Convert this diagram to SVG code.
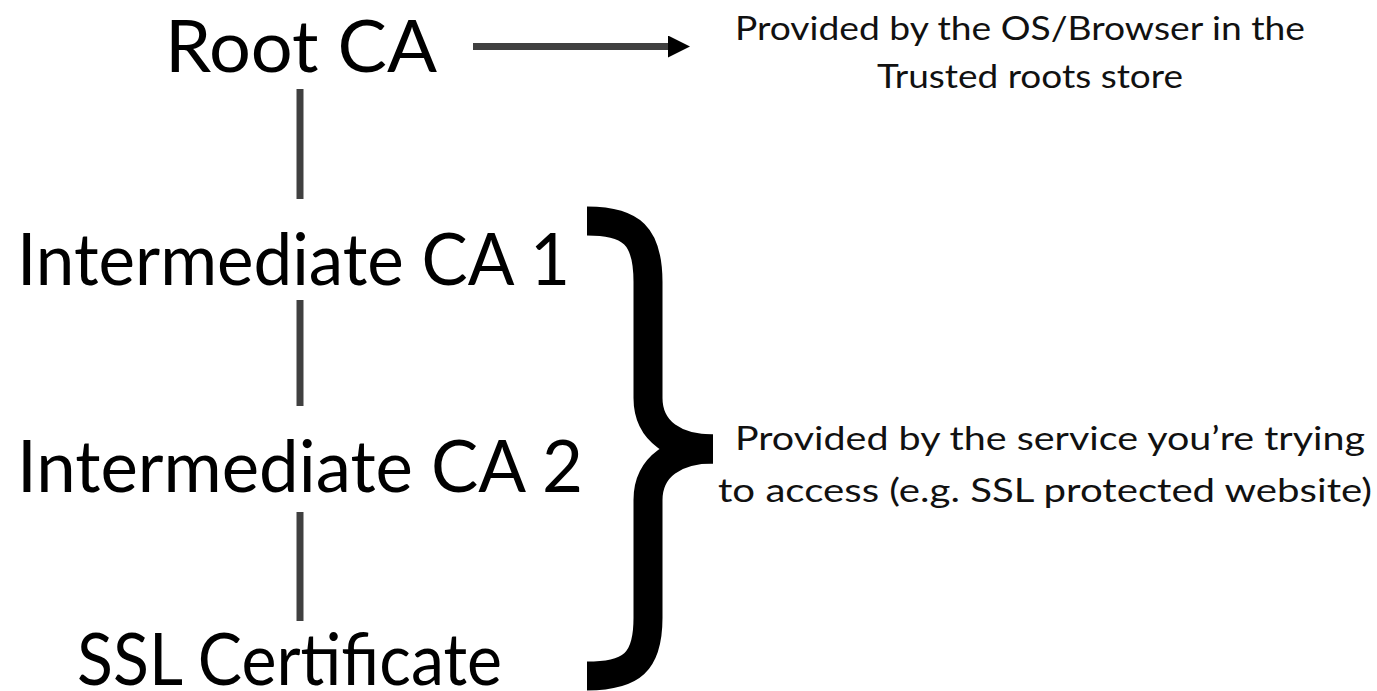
<svg xmlns="http://www.w3.org/2000/svg" width="1377" height="691" viewBox="0 0 1377 691">
<style>
.big{font-family:Lato,"Open Sans","Liberation Sans",sans-serif;font-size:72px;fill:#000}
.small{font-family:Lato,"Open Sans","Liberation Sans",sans-serif;font-size:33px;fill:#111}
.link{stroke:#404040;stroke-width:7;fill:none}
.brace{stroke:#000;stroke-width:29;fill:none;stroke-linecap:butt}
</style>
<defs>
<marker id="ah" markerUnits="userSpaceOnUse" markerWidth="24" markerHeight="24" refX="2" refY="11" orient="auto">
<path d="M0,0 L22,11 L0,22 Z" fill="#000"/>
</marker>
</defs>
<rect width="1377" height="691" fill="#fff"/>
<g id="connectors">
<line class="link" x1="300" y1="89" x2="300" y2="199"/>
<line class="link" x1="300" y1="300" x2="300" y2="406"/>
<line class="link" x1="300" y1="512" x2="300" y2="621"/>
<line class="link" x1="473" y1="46.5" x2="670" y2="46.5" marker-end="url(#ah)"/>
</g>
<g id="root-ca"><text class="big" x="165" y="72" textLength="272" lengthAdjust="spacingAndGlyphs">Root CA</text></g>
<g id="intermediate-ca-1"><text class="big" x="17" y="285" textLength="553" lengthAdjust="spacingAndGlyphs">Intermediate CA 1</text></g>
<g id="intermediate-ca-2"><text class="big" x="17" y="492" textLength="566" lengthAdjust="spacingAndGlyphs">Intermediate CA 2</text></g>
<g id="ssl-certificate"><text class="big" x="77" y="685" textLength="425" lengthAdjust="spacingAndGlyphs">SSL Certificate</text></g>
<g id="trusted-note">
<text class="small" x="735" y="40" textLength="570" lengthAdjust="spacingAndGlyphs">Provided by the OS/Browser in the</text>
<text class="small" x="877" y="88" textLength="306" lengthAdjust="spacingAndGlyphs">Trusted roots store</text>
</g>
<g id="brace">
<path class="brace" d="M587,221 C632,221 648,236 648,282 L648,398 C648,432 676,449 713,449"/>
<path class="brace" d="M713,449 C676,449 648,466 648,500 L648,618 C648,662 632,676 587,676"/>
</g>
<g id="service-note">
<text class="small" x="735" y="450" textLength="630" lengthAdjust="spacingAndGlyphs">Provided by the service you’re trying</text>
<text class="small" x="718" y="502" textLength="654" lengthAdjust="spacingAndGlyphs">to access (e.g. SSL protected website)</text>
</g>
</svg>
